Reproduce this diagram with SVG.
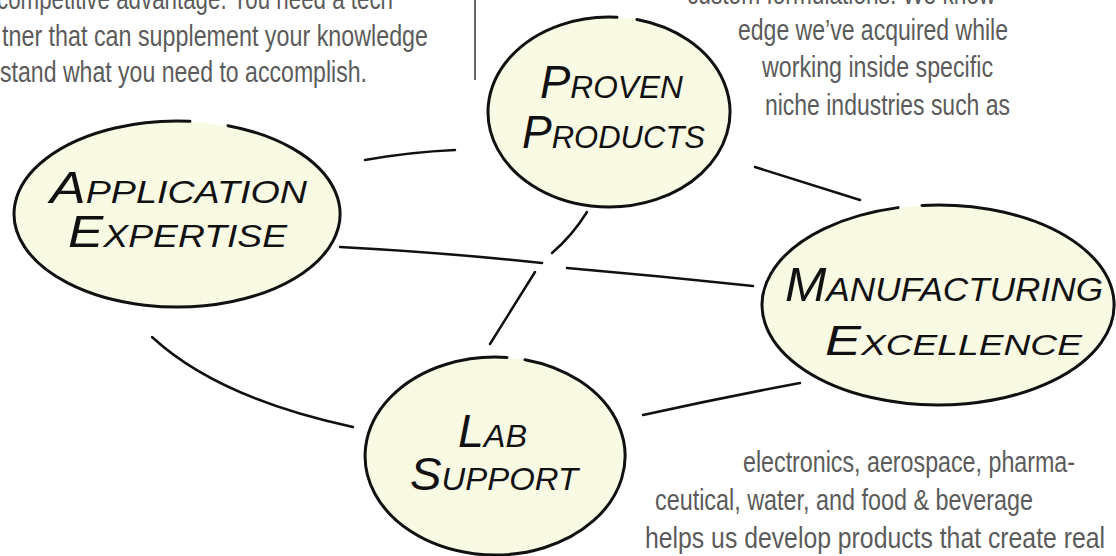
<svg xmlns="http://www.w3.org/2000/svg" width="1116" height="556" viewBox="0 0 1116 556">
<style>
.body{font-family:"Liberation Sans",Arial,sans-serif;font-size:29px;fill:#5b5b5b}
.node{fill:#f9fae4;stroke:#111;stroke-width:3;stroke-linecap:round}
.lbl{font-family:"Liberation Sans",Arial,sans-serif;font-style:italic;font-variant:small-caps;fill:#111}
.conn{fill:none;stroke:#111;stroke-width:2.5;stroke-linecap:round}
</style>
<rect width="1116" height="556" fill="#ffffff"/>
<g id="text-left">
<text class="body" x="-3" y="9" textLength="396" lengthAdjust="spacingAndGlyphs">competitive advantage. You need a tech</text>
<text class="body" x="2" y="46" textLength="426" lengthAdjust="spacingAndGlyphs">tner that can supplement your knowledge</text>
<text class="body" x="0" y="82" textLength="367" lengthAdjust="spacingAndGlyphs">stand what you need to accomplish.</text>
<line x1="475" y1="0" x2="475" y2="80" stroke="#666" stroke-width="2"/>
</g>
<g id="text-right-top">
<text class="body" x="687" y="4" textLength="316" lengthAdjust="spacingAndGlyphs">custom formulations. We know-</text>
<text class="body" x="738" y="40" textLength="270" lengthAdjust="spacingAndGlyphs">edge we’ve acquired while</text>
<text class="body" x="762" y="77" textLength="231" lengthAdjust="spacingAndGlyphs">working inside specific</text>
<text class="body" x="765" y="115" textLength="245" lengthAdjust="spacingAndGlyphs">niche industries such as</text>
</g>
<g id="text-right-bottom">
<text class="body" x="743" y="472" textLength="332" lengthAdjust="spacingAndGlyphs">electronics, aerospace, pharma-</text>
<text class="body" x="655" y="510" textLength="378" lengthAdjust="spacingAndGlyphs">ceutical, water, and food &amp; beverage</text>
<text class="body" x="645" y="548" textLength="460" lengthAdjust="spacingAndGlyphs">helps us develop products that create real</text>
</g>
<g id="connectors">
<path class="conn" d="M365,160 Q410,152 455,150"/>
<path class="conn" d="M340,247 Q450,253 542,263"/>
<path class="conn" d="M567,268 Q660,276 753,286"/>
<path class="conn" d="M587,212 Q572,236 552,253"/>
<path class="conn" d="M535,272 L490,344"/>
<path class="conn" d="M755,167 L860,200"/>
<path class="conn" d="M152,337 Q218,398 353,427"/>
<path class="conn" d="M643,415 Q720,398 800,383"/>
</g>
<g id="node-application-expertise">
<path class="node" d="M228,125.67 A163,93 0 1 1 190,121.3"/>
<text class="lbl" font-size="44" x="50" y="203" textLength="257" lengthAdjust="spacingAndGlyphs">Application</text>
<text class="lbl" font-size="44" x="68" y="247" textLength="219" lengthAdjust="spacingAndGlyphs">Expertise</text>
</g>
<g id="node-proven-products">
<path class="node" d="M637,19.58 A121,95 0 1 1 617,17.21"/>
<text class="lbl" font-size="46" x="540" y="98" textLength="143" lengthAdjust="spacingAndGlyphs">Proven</text>
<text class="lbl" font-size="46" x="522" y="148" textLength="183" lengthAdjust="spacingAndGlyphs">Products</text>
</g>
<g id="node-manufacturing-excellence">
<path class="node" d="M922,205.41 A176,100 0 1 1 898,207.62"/>
<text class="lbl" font-size="48" x="785" y="301" textLength="318" lengthAdjust="spacingAndGlyphs">Manufacturing</text>
<text class="lbl" font-size="42" x="825" y="355" textLength="257" lengthAdjust="spacingAndGlyphs">Excellence</text>
</g>
<g id="node-lab-support">
<path class="node" d="M525,359.67 A130,99 0 1 1 507,357.43"/>
<text class="lbl" font-size="46" x="458" y="447" textLength="69" lengthAdjust="spacingAndGlyphs">Lab</text>
<text class="lbl" font-size="46" x="410" y="490" textLength="168" lengthAdjust="spacingAndGlyphs">Support</text>
</g>
</svg>
